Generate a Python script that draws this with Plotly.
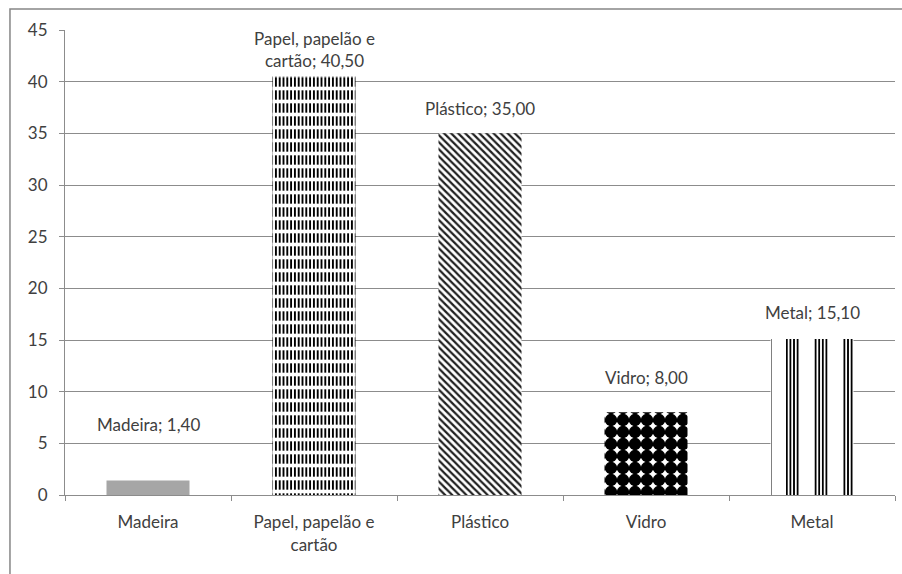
import plotly.graph_objects as go

# ---- data ----
categories = ["Madeira", "Papel, papelão e cartão", "Plástico", "Vidro", "Metal"]
tick_labels = ["Madeira", "Papel, papelão e<br>cartão", "Plástico", "Vidro", "Metal"]
values = [1.40, 40.50, 35.00, 8.00, 15.10]
y_ticks = [0, 5, 10, 15, 20, 25, 30, 35, 40, 45]

# ---- styles ----
FONT = "Lato"
FS = 17
TXT = "#404040"
GRID = "#8c8c8c"
label_shift = [56, 27, 25, 35, 26]

# base fill per bar: (shape, size, solidity, fg, bg)
base_style = [
    None,
    ("|", 3.8, 0.5, "black", "white"),
    ("\\", 5, 0.45, "#202020", "white"),
    (".", 12, 0.8, "black", "white"),
    ("|", 3.6, 0.5, "black", "white"),
]
solid_color = ["#a6a6a6", "white", "white", "white", "white"]
# overlay (white bands / columns)
over_style = [
    None,
    ("-", 13, 0.28, "white"),
    None,
    None,
    ("|", 28, 0.5, "white"),
]

fig = go.Figure()
for i, (c, v) in enumerate(zip(categories, values)):
    st = base_style[i]
    if st is None:
        marker = dict(color=solid_color[i], line=dict(width=0))
    else:
        shp, sz, sol, fgc, bgc = st
        marker = dict(color=bgc, line=dict(width=0),
                      pattern=dict(shape=shp, size=sz, solidity=sol,
                                   fgcolor=fgc, bgcolor=bgc, fillmode="replace"))
    fig.add_trace(go.Bar(x=[c], y=[v], marker=marker,
                         showlegend=False, hoverinfo="skip"))
    ov = over_style[i]
    if ov is not None:
        shp, sz, sol, fgc = ov
        fig.add_trace(go.Bar(
            x=[c], y=[v],
            marker=dict(color="rgba(255,255,255,0)", line=dict(width=0),
                        pattern=dict(shape=shp, size=sz, solidity=sol,
                                     fgcolor=fgc, bgcolor="rgba(255,255,255,0)",
                                     fgopacity=1, fillmode="replace")),
            showlegend=False, hoverinfo="skip"))

for c, lab, v, s in zip(categories, tick_labels, values, label_shift):
    fig.add_annotation(
        x=c, y=v, text=f"{lab}; {v:.2f}".replace(".", ","),
        showarrow=False, yanchor="middle", yshift=s,
        font=dict(family=FONT, size=FS, color=TXT), align="center",
    )

# outer chart border (cropped at right and bottom)
fig.add_shape(type="rect", xref="paper", yref="paper",
              x0=-0.0663, x1=1.05, y0=-0.25, y1=1.0452,
              line=dict(color="#868686", width=1.5), fillcolor="rgba(0,0,0,0)",
              layer="below")

fig.update_layout(
    width=902, height=574,
    margin=dict(l=65, r=7, t=30, b=79),
    paper_bgcolor="white", plot_bgcolor="white",
    barmode="overlay", bargap=0.5,
    font=dict(family=FONT, size=FS, color=TXT),
    xaxis=dict(
        tickmode="array", tickvals=categories, ticktext=tick_labels,
        showline=True, linecolor=GRID, linewidth=1,
        ticks="outside", ticklen=5, tickcolor=GRID, tickson="boundaries",
        showgrid=False, tickfont=dict(family=FONT, size=FS, color=TXT),
        ticklabelstandoff=12,
    ),
    yaxis=dict(
        range=[0, 45], tickvals=y_ticks,
        showline=True, linecolor=GRID, linewidth=1,
        ticks="outside", ticklen=5, tickcolor=GRID,
        showgrid=True, gridcolor=GRID, gridwidth=1, zeroline=False,
        tickfont=dict(family=FONT, size=FS, color=TXT),
        ticklabelstandoff=8,
    ),
)

fig.write_html("out.html")
